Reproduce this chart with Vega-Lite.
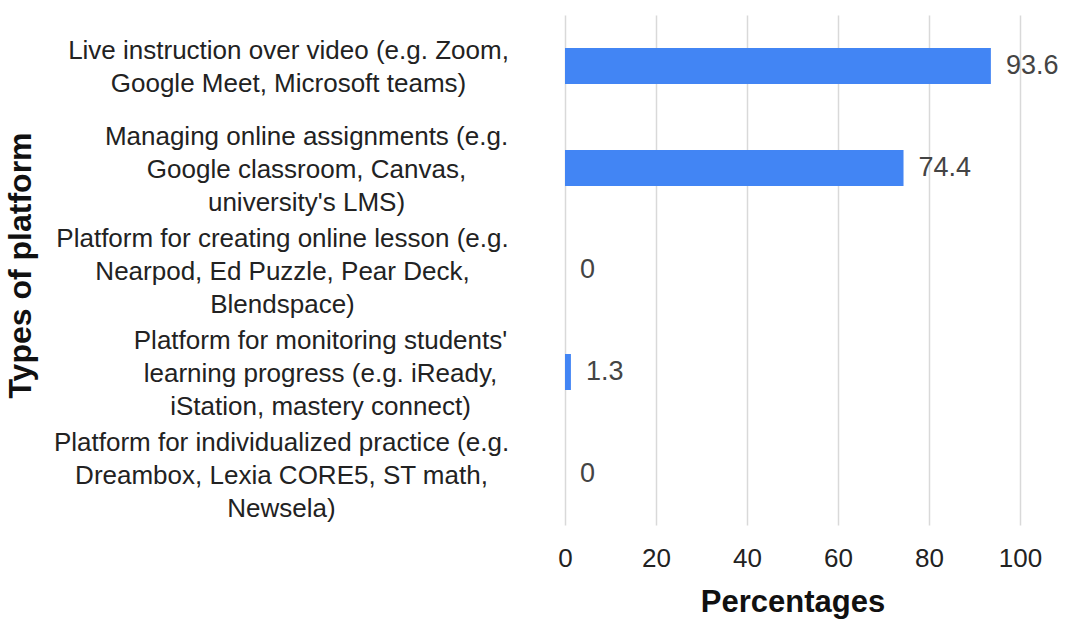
{
  "$schema": "https://vega.github.io/schema/vega-lite/v6.json",
  "width": 455,
  "height": 510,
  "autosize": {"type": "none"},
  "padding": {"left": 565, "top": 15, "right": 45, "bottom": 94},
  "background": "white",
  "config": {"view": {"stroke": null}, "font": "Liberation Sans"},
  "data": {
    "values": [
      {"platform": "Live instruction over video (e.g. Zoom,|Google Meet, Microsoft teams)", "pct": 93.6},
      {"platform": "Managing online assignments (e.g.|Google classroom, Canvas,|university's LMS)", "pct": 74.4},
      {"platform": "Platform for creating online lesson (e.g.|Nearpod, Ed Puzzle, Pear Deck,|Blendspace)", "pct": 0},
      {"platform": "Platform for monitoring students'|learning progress (e.g. iReady,|iStation, mastery connect)", "pct": 1.3},
      {"platform": "Platform for individualized practice (e.g.|Dreambox, Lexia CORE5, ST math,|Newsela)", "pct": 0}
    ]
  },
  "encoding": {
    "y": {
      "field": "platform",
      "type": "nominal",
      "sort": null,
      "scale": {"paddingInner": 0, "paddingOuter": 0},
      "axis": {
        "title": "Types of platform",
        "labelExpr": "split(datum.label, '|')",
        "labelAlign": "center",
        "labelBaseline": "middle",
        "labelPadding": {
          "condition": [
            {"test": "indexof(datum.value,'Live')==0", "value": 277},
            {"test": "indexof(datum.value,'Platform for creating')==0", "value": 283},
            {"test": "indexof(datum.value,'Platform for monitoring')==0", "value": 245},
            {"test": "indexof(datum.value,'Platform for individualized')==0", "value": 284}
          ],
          "value": 259
        },
        "labelOffset": {
          "condition": {"test": "indexof(datum.value,'Live')==0", "value": -15},
          "value": -31
        },
        "ticks": false,
        "domain": false,
        "grid": false,
        "labelFontSize": 26,
        "labelLineHeight": 33,
        "labelColor": "#222222",
        "labelLimit": 0,
        "titleFontSize": 32,
        "titleFontWeight": "bold",
        "titleColor": "#111111",
        "titleX": -528,
        "titleY": 250
      }
    },
    "x": {
      "field": "pct",
      "type": "quantitative",
      "scale": {"domain": [0, 100]},
      "axis": {
        "title": "Percentages",
        "values": [0, 20, 40, 60, 80, 100],
        "grid": true,
        "gridColor": "#d9d9d9",
        "gridWidth": 1.5,
        "domain": false,
        "ticks": false,
        "labelFlush": false,
        "labelFontSize": 26,
        "labelPadding": 20,
        "labelColor": "#222222",
        "titleFontSize": 31,
        "titleFontWeight": "bold",
        "titlePadding": 16,
        "titleColor": "#111111"
      }
    }
  },
  "layer": [
    {"mark": {"type": "bar", "color": "#4285F4", "size": 36}},
    {
      "mark": {"type": "text", "align": "left", "baseline": "middle", "dx": 15, "fontSize": 27, "color": "#444444"},
      "encoding": {"text": {"field": "pct", "type": "quantitative"}}
    }
  ]
}
